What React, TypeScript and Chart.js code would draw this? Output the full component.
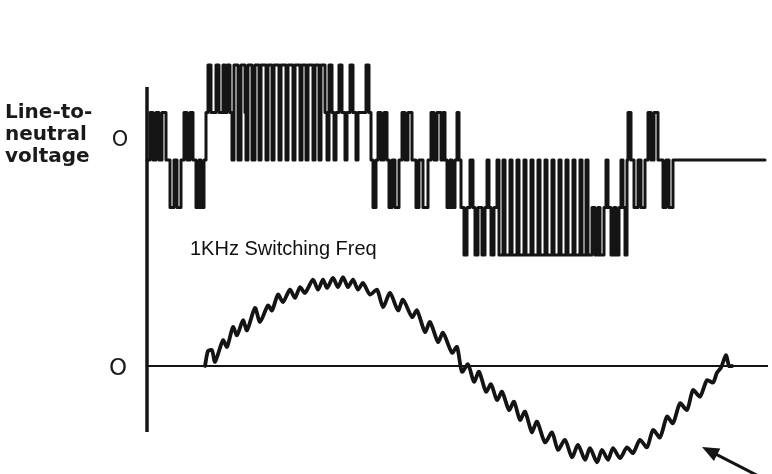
import React, { useEffect, useRef } from "react";
import { Chart, registerables } from "chart.js";

Chart.register(...registerables);

// ---- Data (time in ms, voltage in units of Vdc/3, current in per-unit) ----
// Line-to-neutral voltage switching events: [time, level after the switch]
const vStartRegion: [number, number][] = [
  [0.0, 0], [0.12, 1], [0.24, 0], [0.36, 1], [0.48, 0], [0.6, 1], [0.76, 0],
  [0.92, -1], [1.08, 0], [1.2, -1], [1.36, 0], [1.48, 1], [1.6, 0], [1.72, 1],
  [1.84, 0], [1.96, -1], [2.08, 0], [2.16, -1], [2.28, 0],
];
const vPositiveRegion: [number, number][] = [
  [2.36, 1], [2.44, 2], [2.56, 1], [2.76, 2], [2.88, 1], [3.04, 2], [3.12, 1],
  [3.2, 2], [3.32, 1], [3.4, 0], [3.48, 2], [3.64, 0], [3.76, 2], [3.92, 1],
  [3.96, 0], [4.04, 2], [4.2, 0], [4.32, 2], [4.48, 0], [4.56, 2], [4.76, 0],
  [4.84, 2], [5.0, 0], [5.08, 2], [5.28, 0], [5.36, 2], [5.56, 0], [5.64, 2],
  [5.84, 0], [5.92, 2], [6.12, 0], [6.2, 2], [6.36, 0], [6.44, 2], [6.64, 0],
  [6.72, 2], [6.88, 0], [6.96, 2], [7.12, 1], [7.2, 0], [7.28, 2], [7.4, 1],
  [7.48, 0], [7.56, 1], [7.68, 2], [7.8, 1], [7.92, 0], [8.0, 1], [8.12, 2],
  [8.24, 1], [8.36, 0], [8.44, 1], [8.76, 2], [8.88, 1], [8.96, 0],
];
const vMidRegion: [number, number][] = [
  [9.04, -1], [9.16, 0], [9.24, 1], [9.36, 0], [9.48, 1], [9.6, 0], [9.68, -1],
  [9.8, 0], [9.92, -1], [10.08, 0], [10.2, 1], [10.32, 0], [10.44, 1], [10.6, 0],
  [10.76, -1], [10.88, 0], [11.04, -1], [11.24, 0], [11.36, 1], [11.48, 0],
  [11.6, 1], [11.76, 0], [11.84, 1], [11.92, 0], [12.0, -1], [12.12, 0],
  [12.2, -1], [12.32, 0], [12.4, 1], [12.48, 0],
];
const vNegativeRegion: [number, number][] = [
  [12.56, -1], [12.68, -2], [12.8, -1], [12.92, 0], [13.04, -1], [13.12, -2],
  [13.24, -1], [13.4, -2], [13.52, -1], [13.6, 0], [13.68, -1], [13.76, -2],
  [13.88, -1], [14.0, 0], [14.08, -2], [14.24, 0], [14.32, -2], [14.52, 0],
  [14.6, -2], [14.8, 0], [14.88, -2], [15.08, 0], [15.16, -2], [15.36, 0],
  [15.44, -2], [15.64, 0], [15.72, -2], [15.92, 0], [16.0, -2], [16.2, 0],
  [16.28, -2], [16.48, 0], [16.56, -2], [16.76, 0], [16.84, -2], [17.04, 0],
  [17.12, -2], [17.32, 0], [17.4, -2], [17.56, 0], [17.64, -2], [17.8, -1],
  [17.92, -2], [18.04, -1], [18.12, -2], [18.28, -1], [18.36, 0], [18.44, -1],
  [18.56, -2], [18.68, -1], [18.76, -2], [18.88, -1], [18.96, 0], [19.04, -1],
  [19.12, -2], [19.2, 0],
];
const vEndRegion: [number, number][] = [
  [19.24, 1], [19.36, 0], [19.48, -1], [19.64, 0], [19.76, -1], [19.92, 0],
  [20.04, 1], [20.16, 0], [20.28, 1], [20.44, 0], [20.64, -1], [20.76, 0],
  [20.88, -1], [21.04, 0], [24.72, 0],
];

// Phase current with switching ripple
const currentTimes = [
  2.32, 2.44, 2.6, 2.72, 3.04, 3.2, 3.44, 3.6, 3.84, 4.0, 4.32, 4.52, 4.84,
  5.0, 5.24, 5.44, 5.72, 5.92, 6.12, 6.32, 6.64, 6.84, 7.04, 7.2, 7.44, 7.64,
  7.84, 8.04, 8.24, 8.44, 8.64, 8.92, 9.2, 9.44, 9.72, 10.04, 10.24, 10.6, 10.8,
  11.12, 11.32, 11.64, 11.84, 12.2, 12.4, 12.6, 12.84, 13.08, 13.28, 13.56,
  13.76, 14.0, 14.2, 14.48, 14.68, 14.92, 15.12, 15.4, 15.6, 15.92, 16.2, 16.44,
  16.72, 17.0, 17.24, 17.52, 17.72, 18.0, 18.2, 18.44, 18.64, 18.92, 19.2,
  19.44, 19.72, 20.0, 20.24, 20.52, 20.8, 21.04, 21.32, 21.6, 21.84, 22.12,
  22.4, 22.64, 22.8, 22.96, 23.16, 23.28, 23.4,
];
const currentValues = [
  0, 0.18, 0.19, 0.05, 0.31, 0.23, 0.47, 0.37, 0.55, 0.43, 0.7, 0.53, 0.73,
  0.67, 0.86, 0.77, 0.92, 0.82, 0.95, 0.88, 1.04, 0.92, 1.04, 0.94, 1.06, 0.95,
  1.07, 0.95, 1.04, 0.92, 1.0, 0.86, 0.92, 0.71, 0.88, 0.67, 0.8, 0.59, 0.67,
  0.41, 0.53, 0.29, 0.4, 0.16, 0.23, -0.07, 0.02, -0.19, -0.07, -0.31, -0.22,
  -0.41, -0.31, -0.53, -0.43, -0.65, -0.55, -0.8, -0.67, -0.92, -0.8, -1.01,
  -0.89, -1.1, -0.95, -1.13, -0.99, -1.16, -1.01, -1.13, -0.99, -1.11, -0.98,
  -1.05, -0.89, -0.98, -0.77, -0.86, -0.61, -0.69, -0.45, -0.53, -0.29, -0.37,
  -0.17, -0.2, -0.08, -0.02, 0.13, 0, 0,
];

const voltageLabelLines = ["Line-to-", "neutral", "voltage"];
const zeroLabel = "O";
const noteText = "1KHz Switching Freq";

const INK = "#141414";

const decorPlugin = {
  id: "decor",
  beforeDatasetsDraw(chart: any) {
    const { ctx, chartArea, scales } = chart;
    const y0 = scales.yI.getPixelForValue(0);
    ctx.save();
    ctx.strokeStyle = INK;
    ctx.lineCap = "butt";
    // vertical axis
    ctx.lineWidth = 3.5;
    ctx.beginPath();
    ctx.moveTo(chartArea.left, chartArea.top);
    ctx.lineTo(chartArea.left, chartArea.bottom);
    ctx.stroke();
    // current zero axis
    ctx.lineWidth = 2.2;
    ctx.beginPath();
    ctx.moveTo(chartArea.left, y0);
    ctx.lineTo(chartArea.right - 4, y0);
    ctx.stroke();
    ctx.restore();
  },
  afterDraw(chart: any) {
    const { ctx, chartArea, scales } = chart;
    const yZeroI = scales.yI.getPixelForValue(0);
    ctx.save();
    ctx.fillStyle = "#1a1a1a";
    ctx.textAlign = "left";
    ctx.textBaseline = "alphabetic";
    ctx.font = 'bold 20px "DejaVu Sans"';
    voltageLabelLines.forEach((line, i) => {
      ctx.fillText(line, 5, 118 + i * 22);
    });
    ctx.font = '21px "DejaVu Sans"';
    ctx.textAlign = "center";
    ctx.fillText(zeroLabel, 120, 146);
    ctx.font = '23px "DejaVu Sans"';
    ctx.fillText(zeroLabel, chartArea.left - 29, yZeroI + 9);
    ctx.font = '20px "Liberation Sans"';
    ctx.textAlign = "left";
    ctx.fillStyle = "#111";
    ctx.fillText(noteText, 190, 255);

    // arrow
    const tip = { x: 702, y: 447 };
    const tail = { x: 772, y: 483 };
    const dx = tail.x - tip.x;
    const dy = tail.y - tip.y;
    const len = Math.hypot(dx, dy);
    const ux = dx / len;
    const uy = dy / len;
    const headLen = 17;
    const headHalf = 7;
    const bx = tip.x + ux * headLen;
    const by = tip.y + uy * headLen;
    ctx.strokeStyle = INK;
    ctx.lineWidth = 3;
    ctx.beginPath();
    ctx.moveTo(bx - ux * 2, by - uy * 2);
    ctx.lineTo(tail.x, tail.y);
    ctx.stroke();
    ctx.fillStyle = INK;
    ctx.beginPath();
    ctx.moveTo(tip.x, tip.y);
    ctx.lineTo(bx - uy * headHalf, by + ux * headHalf);
    ctx.lineTo(bx + uy * headHalf, by - ux * headHalf);
    ctx.closePath();
    ctx.fill();
    ctx.restore();
  },
};

export default function App() {
  const ref = useRef<HTMLCanvasElement | null>(null);

  useEffect(() => {
    document.body.style.margin = "0";
    document.body.style.overflow = "hidden";
    const canvas = ref.current;
    if (!canvas) return;

    const voltageEvents = [
      ...vStartRegion,
      ...vPositiveRegion,
      ...vMidRegion,
      ...vNegativeRegion,
      ...vEndRegion,
    ];
    const voltageData = voltageEvents.map(([t, v]) => ({ x: t, y: v }));
    const currentData = currentTimes.map((t, i) => ({ x: t, y: currentValues[i] }));

    const chart = new Chart(canvas, {
      type: "line",
      data: {
        datasets: [
          {
            label: "Line-to-neutral voltage",
            data: voltageData,
            yAxisID: "yV",
            stepped: "before",
            borderColor: INK,
            borderWidth: 3,
            borderJoinStyle: "round",
            borderCapStyle: "round",
            pointRadius: 0,
            fill: false,
            clip: false as any,
          },
          {
            label: "Phase current",
            data: currentData,
            yAxisID: "yI",
            tension: 0.25,
            borderColor: INK,
            borderWidth: 3.8,
            borderJoinStyle: "round",
            borderCapStyle: "round",
            pointRadius: 0,
            fill: false,
            clip: false as any,
          },
        ],
      },
      options: {
        responsive: false,
        animation: false,
        events: [],
        layout: { padding: { left: 147, top: 87, right: 0, bottom: 42 } },
        plugins: {
          legend: { display: false },
          tooltip: { enabled: false },
          title: { display: false },
        },
        scales: {
          x: { type: "linear", min: 0, max: 25, display: false },
          yV: { type: "linear", position: "left", min: -5.7263, max: 1.5368, display: false },
          yI: { type: "linear", position: "left", min: -0.7952, max: 3.3614, display: false },
        },
      },
      plugins: [decorPlugin],
    } as any);

    return () => chart.destroy();
  }, []);

  return (
    <div style={{ width: 772, height: 474, position: "relative", background: "#fff" }}>
      <canvas ref={ref} width={772} height={474} style={{ display: "block", width: 772, height: 474 }} />
    </div>
  );
}
